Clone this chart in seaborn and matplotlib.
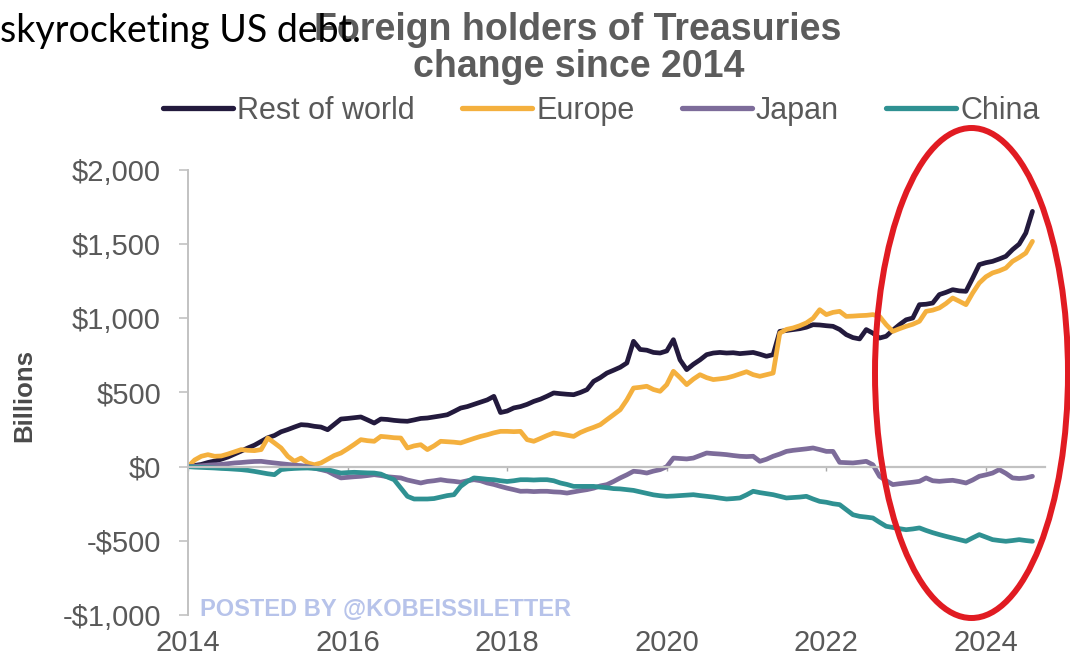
import numpy as np
import pandas as pd
import matplotlib
matplotlib.use("Agg")
import matplotlib.pyplot as plt
import seaborn as sns
from matplotlib.patches import Ellipse

# ---- data: change in foreign holdings of US Treasuries since Jan 2014, $bn (monthly) ----
months = pd.date_range("2014-01-01", "2024-08-01", freq="MS")

rest_of_world = [
    0, 8, 15, 28, 38, 50, 65, 85, 105, 126, 145, 170,
    195, 210, 235, 250, 267, 283, 280, 272, 267, 249, 285, 321,
    325, 330, 335, 315, 294, 321, 318, 312, 308, 306, 315, 325,
    328, 335, 342, 350, 372, 395, 405, 420, 435, 450, 474, 365,
    375, 396, 405, 420, 440, 455, 475, 497, 492, 488, 485, 500,
    519, 575, 600, 631, 650, 670, 699, 845, 790, 785, 770, 766,
    780, 856, 720, 654, 690, 720, 755, 766, 770, 766, 768, 762,
    766, 770, 758, 744, 755, 912, 918, 924, 930, 940, 957, 955,
    950, 946, 925, 890, 870, 861, 924, 900, 867, 879, 920, 957,
    990, 1002, 1092, 1095, 1103, 1160, 1175, 1193, 1185, 1182, 1270, 1362,
    1375, 1384, 1400, 1418, 1463, 1500, 1575, 1721,
]
europe = [
    0, 45, 70, 81, 70, 72, 85, 100, 115, 110, 108, 115,
    193, 160, 126, 70, 36, 58, 25, 13, 25, 50, 75, 92,
    120, 150, 182, 175, 171, 204, 200, 195, 193, 126, 140, 148,
    115, 140, 171, 168, 165, 160, 175, 190, 204, 215, 228, 238,
    238, 236, 238, 182, 171, 190, 210, 227, 220, 212, 204, 230,
    249, 265, 283, 317, 350, 384, 450, 530, 535, 542, 520, 508,
    553, 643, 600, 553, 590, 620, 600, 587, 592, 598, 610, 625,
    640, 620, 609, 620, 631, 900, 925, 935, 950, 969, 1000, 1058,
    1025, 1040, 1047, 1013, 1015, 1018, 1020, 1025, 1013, 957, 912, 930,
    946, 960, 980, 1047, 1055, 1070, 1100, 1137, 1115, 1092, 1170, 1238,
    1280, 1306, 1320, 1339, 1384, 1410, 1440, 1519,
]
japan = [
    0, 3, 6, 10, 13, 15, 20, 25, 28, 32, 35, 36,
    30, 25, 20, 15, 10, 7, 0, -10, -20, -31, -55, -76,
    -72, -68, -65, -60, -54, -60, -68, -72, -76, -90, -100, -110,
    -100, -95, -88, -95, -99, -105, -95, -88, -95, -110, -120, -133,
    -145, -155, -166, -165, -168, -166, -166, -170, -172, -178, -170, -162,
    -155, -145, -130, -121, -100, -76, -55, -31, -35, -43, -30, -20,
    0, 58, 55, 52, 58, 75, 92, 88, 85, 81, 75, 70,
    68, 70, 36, 50, 70, 85, 103, 110, 115, 120, 126, 115,
    103, 103, 29, 27, 25, 30, 36, 13, -65, -95, -121, -115,
    -110, -105, -99, -76, -95, -99, -95, -92, -100, -110, -90, -65,
    -55, -43, -20, -45, -76, -80, -76, -65,
]
china = [
    0, -3, -5, -7, -9, -12, -14, -17, -20, -25, -32, -40,
    -48, -54, -20, -15, -12, -10, -9, -12, -16, -20, -32, -43,
    -40, -38, -40, -42, -43, -50, -70, -88, -144, -200, -218, -218,
    -218, -215, -205, -195, -189, -133, -100, -76, -80, -85, -88, -95,
    -100, -95, -88, -88, -90, -88, -88, -95, -110, -120, -133, -133,
    -133, -133, -138, -142, -148, -150, -155, -160, -170, -180, -190, -196,
    -200, -198, -195, -192, -189, -195, -200, -205, -212, -218, -215, -211,
    -190, -166, -175, -182, -189, -200, -211, -208, -205, -200, -218, -234,
    -240, -250, -256, -290, -324, -335, -340, -346, -375, -402, -410, -418,
    -425, -420, -413, -430, -445, -458, -470, -481, -492, -503, -480, -458,
    -475, -492, -498, -503, -498, -492, -498, -503,
]

series_names = ["Rest of world", "Europe", "Japan", "China"]
series_colors = ["#231a3d", "#f4b03e", "#7d6c9a", "#2f9192"]

y_ticks = [-1000, -500, 0, 500, 1000, 1500, 2000]
y_tick_labels = ["-$1,000", "-$500", "$0", "$500", "$1,000", "$1,500", "$2,000"]
x_ticks = [2014, 2016, 2018, 2020, 2022, 2024]
x_tick_labels = ["2014", "2016", "2018", "2020", "2022", "2024"]

# ---- tidy frame ----
decimal_year = months.year + (months.month - 1) / 12.0
wide = pd.DataFrame({
    "year": decimal_year,
    "Rest of world": rest_of_world,
    "Europe": europe,
    "Japan": japan,
    "China": china,
})
long = wide.melt(id_vars="year", var_name="series", value_name="value")

# ---- style ----
sns.set_theme(style="white")
plt.rcParams["font.family"] = ["Liberation Sans", "DejaVu Sans"]

GRAY_TEXT = "#595959"
AXIS_GRAY = "#c2c2c2"

fig = plt.figure(figsize=(10.7, 6.56), dpi=100)
fig.patch.set_facecolor("white")
ax = fig.add_axes([0.1757, 0.0625, 0.8009, 0.6784])
ax.set_facecolor("white")

sns.lineplot(
    data=long, x="year", y="value", hue="series",
    hue_order=series_names, palette=dict(zip(series_names, series_colors)),
    linewidth=3.4, ax=ax, legend=True,
)

ax.set_xlim(2014, 2024.74)
ax.set_ylim(-1000, 2000)
ax.set_xlabel("")
ax.set_ylabel("")

# y axis
ax.set_yticks(y_ticks)
ax.set_yticklabels(y_tick_labels)
ax.tick_params(axis="y", direction="out", length=6.5, width=1.2, color=AXIS_GRAY,
               pad=13, labelsize=21, labelcolor=GRAY_TEXT, left=True)
ax.spines["left"].set_color(AXIS_GRAY)
ax.spines["left"].set_linewidth(1.4)
for side in ("top", "right"):
    ax.spines[side].set_visible(False)

# x axis line sits at zero, with short ticks
ax.spines["bottom"].set_position(("data", 0))
ax.spines["bottom"].set_color(AXIS_GRAY)
ax.spines["bottom"].set_linewidth(1.6)
ax.set_xticks(x_ticks)
ax.tick_params(axis="x", direction="out", length=3, width=1.0, color="#a8a8a8",
               labelbottom=False, bottom=True)

# year labels along the bottom edge
secax = ax.secondary_xaxis("bottom")
secax.set_xticks(x_ticks)
secax.set_xticklabels(x_tick_labels)
secax.spines["bottom"].set_visible(False)
secax.tick_params(axis="x", length=0, pad=10, labelsize=21, labelcolor=GRAY_TEXT)

ax.grid(False)

# legend row above the plot
sns.move_legend(
    ax, "center", bbox_to_anchor=(0.562, 0.831), bbox_transform=fig.transFigure,
    ncol=4, frameon=False, title=None, fontsize=22,
    handlelength=2.3, handletextpad=0.12, columnspacing=1.55,
)
leg = ax.get_legend()
for line in leg.get_lines():
    line.set_linewidth(3.8)
for txt in leg.get_texts():
    txt.set_color(GRAY_TEXT)

# titles and labels
fig.text(0.540, 1 - 30 / 656, "Foreign holders of Treasuries", ha="center", va="center",
         fontsize=27, fontweight="bold", color="#5c5c5c")
fig.text(0.541, 1 - 67 / 656, "change since 2014", ha="center", va="center",
         fontsize=27, fontweight="bold", color="#5c5c5c")
fig.text(24 / 1070, 1 - 395 / 656, "Billions", rotation=90, ha="center", va="center",
         fontsize=18.5, fontweight="bold", color="#4a4a4a")

ax.text(2014.15, -964, "POSTED BY @KOBEISSILETTER", ha="left", va="center",
        fontsize=17, fontweight="bold", color="#b7c3ea")

# caption fragment overlapping the top-left corner
fig.text(0.0, 1 - 42 / 656, "skyrocketing US debt.", ha="left", va="baseline",
         fontsize=27, color="black", family=["Lato", "DejaVu Sans"])

# highlight ring around the latest period
ring = Ellipse((971.5 / 1070, 1 - 373 / 656), width=193 / 1070, height=490 / 656,
               transform=fig.transFigure, fill=False, edgecolor="#e11b22",
               linewidth=4.3, clip_on=False, zorder=10)
fig.patches.append(ring)

fig.savefig("out.png", dpi=100, facecolor="white")
